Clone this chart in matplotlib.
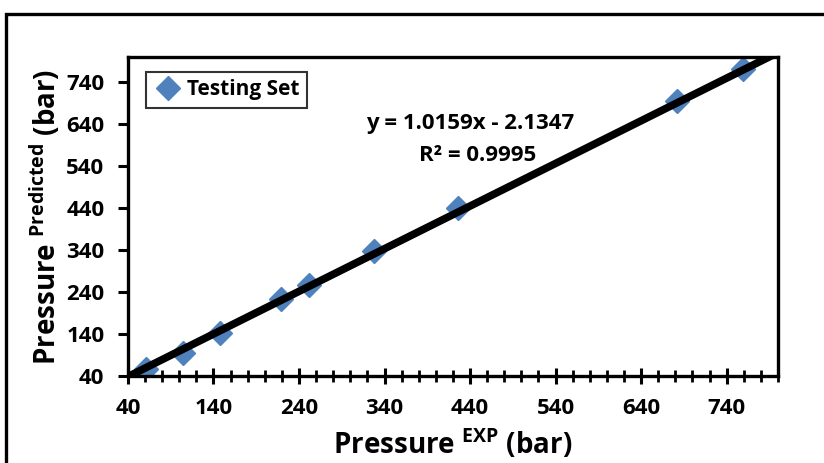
import matplotlib.pyplot as plt
from matplotlib.patches import Rectangle
from matplotlib.ticker import MultipleLocator

# ---------- data ----------
exp_pressure = [61, 104, 148, 219, 252, 328, 426, 682, 759]
pred_pressure = [57, 95, 142, 223, 257, 338, 440, 695, 771]
slope = 1.0159
intercept = -2.1347
r2 = 0.9995
ticks = [40, 140, 240, 340, 440, 540, 640, 740]

FONT = "Open Sans"
plt.rcParams["font.family"] = [FONT, "DejaVu Sans"]
plt.rcParams["font.weight"] = "bold"
plt.rcParams["mathtext.fontset"] = "custom"
plt.rcParams["mathtext.rm"] = FONT + ":bold"
plt.rcParams["mathtext.bf"] = FONT + ":bold"

fig = plt.figure(figsize=(8.24, 4.63), dpi=100)
ax = fig.add_axes([0.1553, 0.1879, 0.7888, 0.689])

# outer chart border (runs off the right / bottom edges)
fig.patches.append(Rectangle((6 / 824, -0.1), 1.2, 1.1 - 14 / 463,
                             transform=fig.transFigure, fill=False,
                             edgecolor="black", linewidth=2.4))

ax.plot(exp_pressure, pred_pressure, linestyle="none", marker="D",
        markersize=12, color="#4F81BD", label="Testing Set", zorder=2)

xs = [40, 800]
ax.plot(xs, [slope * x + intercept for x in xs], color="black",
        linewidth=5.5, zorder=3, solid_capstyle="butt")

ax.set_xlim(40, 800)
ax.set_ylim(40, 800)
ax.set_xticks(ticks)
ax.set_yticks(ticks)
ax.xaxis.set_minor_locator(MultipleLocator(20))
ax.tick_params(axis="x", which="major", direction="inout", length=12, width=2.2,
               pad=10)
ax.tick_params(axis="x", which="minor", direction="inout", length=8, width=2)
ax.tick_params(axis="y", which="major", direction="out", length=7, width=2.2,
               pad=10)
ax.tick_params(labelsize=16)
for lbl in ax.get_xticklabels() + ax.get_yticklabels():
    lbl.set_fontweight("bold")
for sp in ax.spines.values():
    sp.set_linewidth(2.4)

ax.set_xlabel(r"Pressure $^{\mathbf{EXP}}$ (bar)", fontsize=20,
              fontweight="bold", labelpad=6)
ax.set_ylabel(r"Pressure $^{\mathbf{Predicted}}$ (bar)", fontsize=20,
              fontweight="bold", labelpad=2)

ax.text(0.526, 0.79, f"y = {slope:.4f}x - {abs(intercept):.4f}",
        transform=ax.transAxes, ha="center", va="center", fontsize=16,
        fontweight="bold")
ax.text(0.538, 0.69, f"R² = {r2:.4f}", transform=ax.transAxes,
        ha="center", va="center", fontsize=16, fontweight="bold")

leg = ax.legend(loc="upper left", fancybox=False, edgecolor="black",
                fontsize=15, handletextpad=0.2, borderpad=0.35,
                bbox_to_anchor=(0.012, 0.985), handlelength=1.4)
leg.get_frame().set_linewidth(1.5)
for t in leg.get_texts():
    t.set_fontweight("bold")

fig.savefig("out.png", dpi=100)
